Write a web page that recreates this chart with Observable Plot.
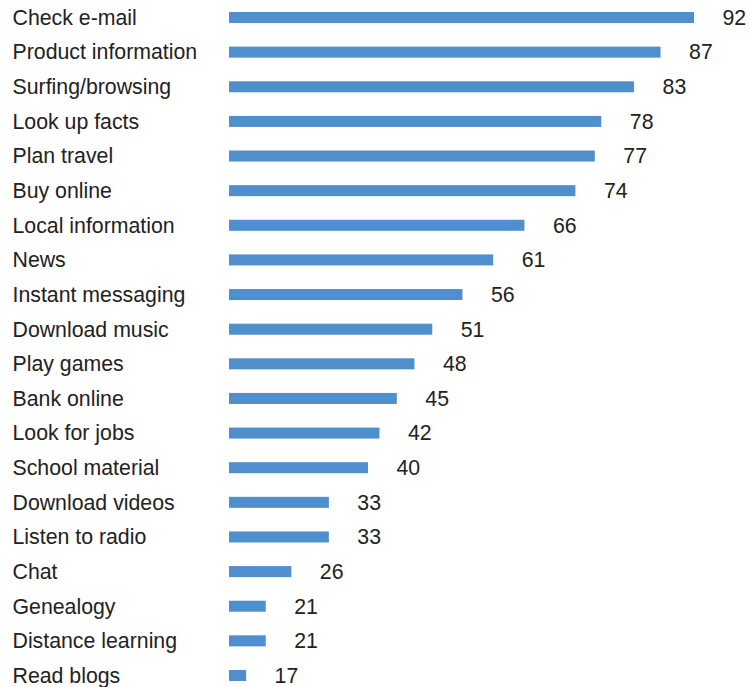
<!DOCTYPE html>
<html>
<head>
<meta charset="utf-8">
<script src="https://cdn.jsdelivr.net/npm/d3@7"></script>
<script src="https://cdn.jsdelivr.net/npm/@observablehq/plot@0.6"></script>
<style>
  html, body { margin: 0; padding: 0; background: #fff; }
  #chart svg { display: block; }
</style>
</head>
<body>
<div id="chart"></div>
<script>
const activities = [
  "Check e-mail", "Product information", "Surfing/browsing", "Look up facts",
  "Plan travel", "Buy online", "Local information", "News",
  "Instant messaging", "Download music", "Play games", "Bank online",
  "Look for jobs", "School material", "Download videos", "Listen to radio",
  "Chat", "Genealogy", "Distance learning", "Read blogs"
];
const percents = [92, 87, 83, 78, 77, 74, 66, 61, 56, 51, 48, 45, 42, 40, 33, 33, 26, 21, 21, 17];

const rows = activities.map((a, i) => ({activity: a, value: percents[i]}));
const xDomain = [13.35, 92];
const font = "'Liberation Sans', Arial, sans-serif";

const chart = Plot.plot({
  width: 749,
  height: 687,
  marginLeft: 0, marginRight: 0, marginTop: 0, marginBottom: 0,
  style: {fontFamily: font, background: "#fff"},
  x: {type: "pow", exponent: 1.2, domain: xDomain, range: [229, 694], axis: null},
  y: {type: "band", domain: activities, range: [0.2, 692.8], paddingInner: 0.682, paddingOuter: 0.341, round: false, axis: null},
  marks: [
    Plot.barX(rows, {y: "activity", x1: xDomain[0], x2: "value", fill: "#4F8FCD"}),
    Plot.text(rows, {y: "activity", text: "activity", frameAnchor: "left", textAnchor: "start", dx: 12, fontSize: 21.3, fill: "#222"}),
    Plot.text(rows, {y: "activity", x: "value", text: d => String(d.value), textAnchor: "start", dx: 28, fontSize: 21.3, fill: "#222"})
  ]
});
document.getElementById("chart").appendChild(chart);
</script>
</body>
</html>
